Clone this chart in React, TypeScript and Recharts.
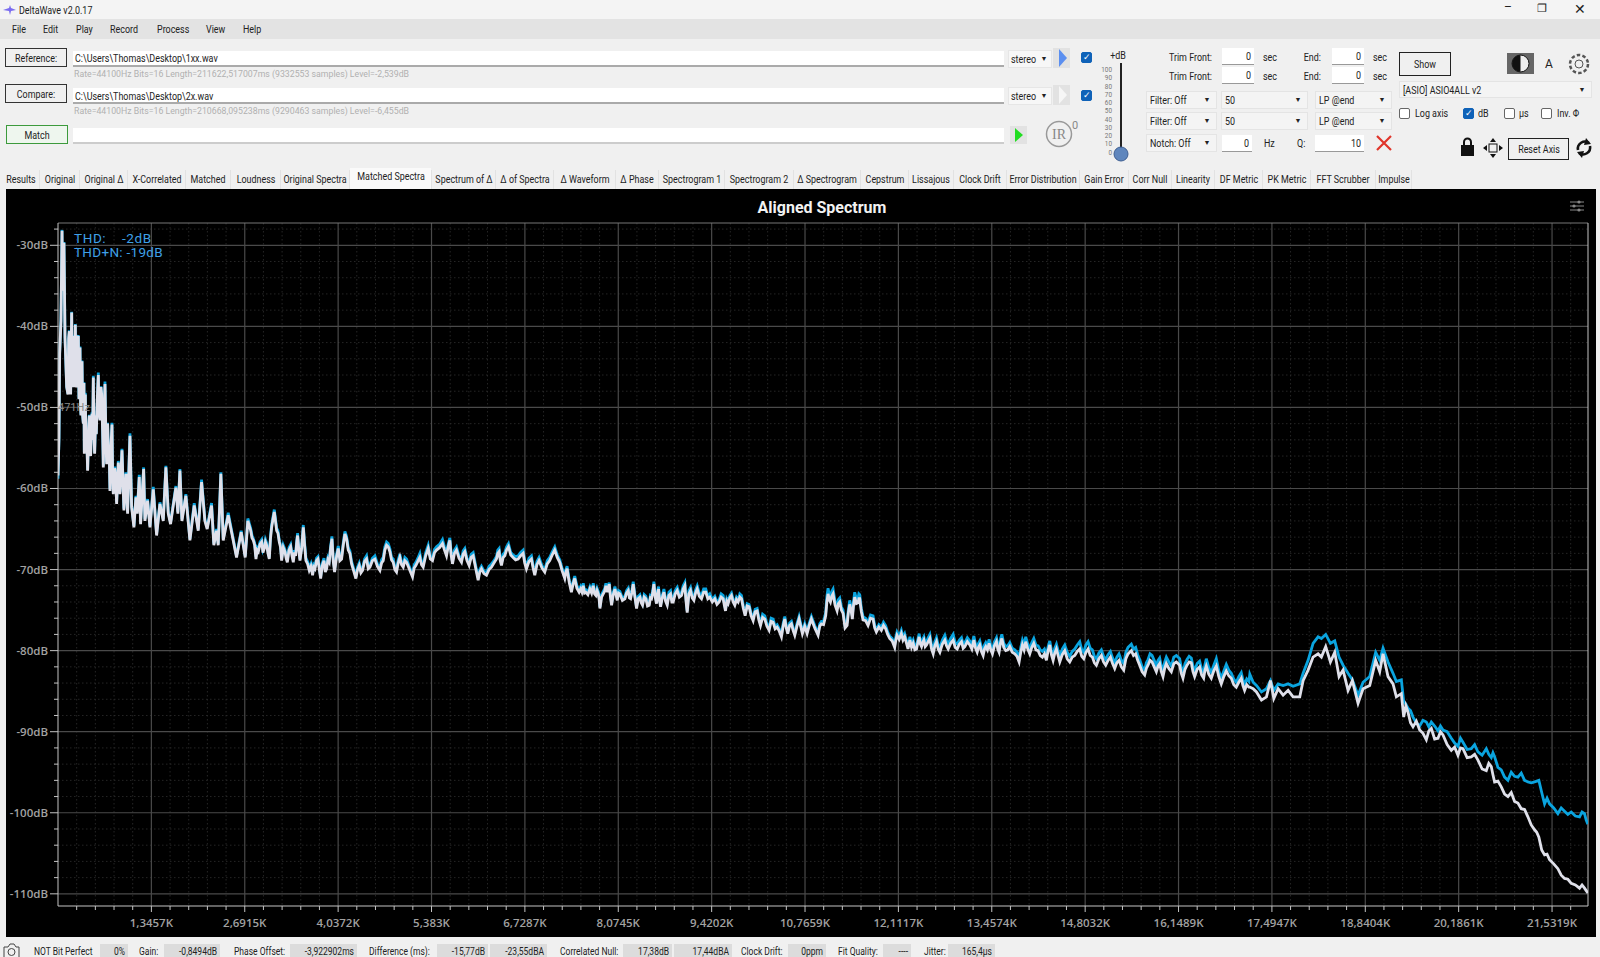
import React from "react";
import {
  LineChart,
  Line,
  XAxis,
  YAxis,
  CartesianGrid,
  ReferenceLine,
} from "recharts";

// values, split by frequency band
const hzBand1 = [
  0, 14, 24, 43, 58, 67, 76, 86, 101, 125,
  144, 154, 163, 173, 182, 197, 206, 221, 230, 240,
  250, 259, 269, 278, 293, 302, 317, 326, 331, 346,
  355, 365, 374, 379, 394, 403, 413, 427, 442, 451,
  461, 470, 490, 499, 509, 518, 528, 542, 552, 566,
  581, 590, 605, 619, 629, 643, 653, 667, 677, 691,
  701, 715, 725, 739, 749, 763, 778, 787, 797, 816,
  830, 845, 869, 893, 922, 950, 979, 1003, 1037, 1061,
  1094, 1123, 1142, 1171, 1190, 1234, 1253, 1291, 1325, 1373,
  1421, 1469, 1517, 1555, 1589, 1622, 1661, 1699, 1728, 1757,
  1786, 1843, 1901, 1963, 2021, 2069, 2117, 2150, 2213, 2246,
  2285, 2309, 2347, 2381, 2453, 2525, 2573, 2640, 2698, 2736,
];
const whiteBand1 = [
  -58.4, -53.7, -43.4, -39.3, -28.2, -35.6, -33.0, -29.7, -41.4, -47.5,
  -48.4, -41.5, -40.6, -47.5, -48.4, -38.3, -47.5, -41.5, -41.2, -47.5,
  -39.8, -47.0, -47.5, -41.5, -41.2, -49.0, -42.6, -50.0, -51.0, -44.3,
  -51.0, -52.0, -47.0, -55.7, -48.4, -54.5, -53.3, -57.8, -52.5, -51.0,
  -55.5, -56.0, -50.8, -54.0, -46.3, -53.0, -55.7, -51.0, -53.3, -49.0,
  -46.0, -50.5, -51.6, -47.5, -48.4, -53.0, -57.4, -50.0, -47.1, -54.0,
  -57.0, -52.0, -54.9, -56.0, -60.3, -55.0, -52.1, -58.0, -60.7, -57.5,
  -58.6, -61.9, -56.8, -60.7, -55.3, -62.7, -58.2, -63.1, -53.5, -62.3,
  -64.8, -61.1, -63.1, -58.6, -64.4, -57.6, -64.0, -61.5, -64.8, -60.1,
  -65.8, -61.9, -64.0, -57.4, -63.1, -64.4, -62.1, -59.9, -63.1, -57.8,
  -64.0, -60.9, -66.4, -62.1, -65.2, -59.2, -64.0, -65.0, -62.1, -67.0,
  -65.2, -67.0, -58.2, -66.4, -63.3, -66.4, -68.5, -65.4, -68.5, -64.0,
];
const blueBand1 = [
  -58.8, -53.8, -43.3, -39.2, -28.1, -35.5, -32.9, -29.6, -41.3, -47.4,
  -48.3, -41.4, -40.5, -47.4, -48.3, -38.2, -47.4, -41.4, -41.1, -47.4,
  -39.7, -46.9, -47.4, -41.4, -41.1, -48.9, -42.5, -49.9, -50.9, -44.2,
  -50.9, -51.9, -46.9, -55.5, -48.2, -54.4, -53.1, -57.7, -52.4, -50.9,
  -55.4, -55.9, -50.6, -53.9, -46.1, -52.9, -55.6, -50.9, -53.2, -48.9,
  -45.7, -50.4, -51.4, -47.4, -48.3, -52.9, -57.2, -49.9, -46.8, -53.9,
  -56.8, -51.9, -54.7, -55.9, -60.1, -54.9, -51.9, -57.9, -60.5, -57.3,
  -58.4, -61.7, -56.6, -60.5, -55.1, -62.5, -58.0, -62.9, -53.2, -62.1,
  -64.6, -60.9, -62.9, -58.3, -64.2, -57.4, -63.8, -61.3, -64.6, -59.8,
  -65.6, -61.7, -63.8, -57.2, -62.9, -64.2, -61.9, -59.7, -62.9, -57.6,
  -63.8, -60.7, -66.2, -61.8, -65.0, -58.9, -63.8, -64.8, -61.8, -66.8,
  -65.0, -66.8, -58.0, -66.2, -63.0, -66.2, -68.3, -65.2, -68.3, -63.7,
];

const hzBand2 = [
  2777, 2796, 2815, 2834, 2853, 2870, 2887, 2911, 2935, 2954,
  2973, 2990, 3007, 3026, 3045, 3062, 3079, 3098, 3117, 3134,
  3151, 3170, 3189, 3206, 3223, 3247, 3271, 3288, 3305, 3329,
  3353, 3372, 3391, 3408, 3425, 3439, 3453, 3470, 3487, 3511,
  3535, 3554, 3573, 3597, 3621, 3645, 3669, 3686, 3703, 3725,
  3746, 3766, 3785, 3809, 3833, 3852, 3871, 3890, 3909, 3929,
  3948, 3967, 3986, 4013, 4039, 4063, 4087, 4111, 4135, 4159,
  4183, 4207, 4231, 4262, 4293, 4317, 4341, 4365, 4389, 4418,
  4447, 4471, 4495, 4531, 4567, 4603, 4639, 4663, 4687, 4711,
  4735, 4759, 4783, 4807, 4831, 4855, 4879, 4903, 4927, 4951,
  4975, 4999, 5023, 5066, 5109, 5133, 5157, 5186, 5215, 5239,
  5263, 5299, 5335, 5366, 5397, 5426, 5455, 5498, 5541, 5570,
  5599, 5623, 5647, 5666, 5685, 5714, 5743, 5779, 5815, 5839,
  5863, 5894, 5925, 5954, 5983, 6019, 6055, 6079, 6103, 6139,
  6175, 6211, 6247, 6283, 6319, 6338, 6357, 6374, 6391, 6415,
  6439, 6465, 6492, 6525, 6559, 6595, 6631, 6667, 6703, 6727,
  6751, 6787, 6823, 6847, 6871, 6902, 6933, 6974, 7015, 7051,
  7087, 7123, 7159, 7195, 7231, 7267, 7303, 7320, 7337, 7368,
  7399, 7423, 7447, 7478, 7510,
];
const whiteBand2 = [
  -65.2, -66.1, -66.4, -67.0, -68.7, -67.6, -67.8, -66.9, -66.6, -67.9,
  -67.4, -66.6, -67.0, -68.0, -68.7, -66.2, -64.8, -63.8, -62.9, -64.0,
  -65.2, -65.5, -66.6, -67.2, -68.9, -67.3, -67.8, -68.6, -69.1, -67.6,
  -67.2, -68.3, -69.1, -67.9, -68.3, -66.8, -65.8, -67.5, -68.9, -67.4,
  -64.8, -67.0, -68.9, -69.3, -70.1, -69.6, -70.7, -69.7, -69.9, -68.9,
  -68.7, -70.0, -71.1, -69.5, -68.9, -70.3, -69.9, -68.8, -69.1, -67.4,
  -66.2, -69.0, -70.3, -68.5, -67.4, -68.9, -68.7, -67.0, -65.6, -66.2,
  -67.6, -68.0, -69.3, -70.2, -71.1, -70.0, -69.5, -70.4, -70.1, -69.0,
  -68.7, -69.9, -69.7, -68.9, -68.7, -69.6, -70.1, -69.2, -68.9, -67.6,
  -67.0, -67.2, -67.8, -68.8, -69.1, -70.0, -70.3, -69.2, -68.5, -69.4,
  -69.7, -68.9, -69.1, -70.0, -70.9, -69.8, -69.5, -69.0, -68.5, -69.4,
  -69.7, -68.3, -67.4, -68.7, -68.9, -67.9, -67.6, -67.3, -66.8, -67.6,
  -68.3, -67.2, -66.4, -68.2, -69.3, -68.0, -67.6, -68.6, -69.1, -68.1,
  -67.8, -68.9, -69.5, -68.5, -68.3, -69.8, -71.3, -70.3, -69.9, -70.5,
  -70.7, -70.0, -69.7, -69.2, -68.7, -68.0, -67.8, -68.9, -69.5, -68.5,
  -68.3, -67.6, -67.2, -68.2, -68.5, -68.8, -68.7, -68.3, -68.0, -69.2,
  -69.9, -69.0, -68.7, -69.8, -70.7, -69.4, -68.9, -69.8, -70.3, -69.3,
  -68.9, -68.2, -67.6, -68.5, -69.1, -70.2, -71.1, -70.3, -69.9, -71.6,
  -72.8, -71.8, -71.1, -72.3, -72.8,
];
const blueBand2 = [
  -64.9, -65.8, -66.2, -66.7, -68.4, -67.3, -67.5, -66.6, -66.3, -67.6,
  -67.2, -66.3, -66.7, -67.7, -68.5, -65.9, -64.5, -63.5, -62.6, -63.7,
  -64.9, -65.2, -66.4, -66.9, -68.6, -67.0, -67.5, -68.3, -68.9, -67.3,
  -66.9, -68.0, -68.8, -67.6, -68.0, -66.5, -65.5, -67.2, -68.7, -67.1,
  -64.5, -66.7, -68.6, -69.0, -69.8, -69.3, -70.5, -69.4, -69.6, -68.6,
  -68.4, -69.7, -70.9, -69.2, -68.6, -70.0, -69.5, -68.5, -68.8, -67.1,
  -65.9, -68.7, -70.0, -68.2, -67.1, -68.6, -68.4, -66.7, -65.3, -65.9,
  -67.3, -67.7, -69.0, -69.9, -70.9, -69.7, -69.2, -70.1, -69.8, -68.7,
  -68.3, -69.6, -69.4, -68.6, -68.3, -69.3, -69.8, -68.8, -68.5, -67.2,
  -66.6, -66.8, -67.4, -68.5, -68.7, -69.7, -70.0, -68.8, -68.1, -69.1,
  -69.4, -68.5, -68.7, -69.7, -70.6, -69.4, -69.1, -68.6, -68.0, -69.1,
  -69.4, -67.9, -67.0, -68.4, -68.6, -67.5, -67.2, -66.9, -66.3, -67.2,
  -67.9, -66.9, -66.1, -67.9, -69.0, -67.6, -67.2, -68.3, -68.8, -67.7,
  -67.4, -68.6, -69.2, -68.1, -67.9, -69.5, -71.0, -70.0, -69.6, -70.2,
  -70.4, -69.6, -69.3, -68.9, -68.4, -67.6, -67.4, -68.6, -69.2, -68.1,
  -67.9, -67.2, -66.8, -67.9, -68.2, -68.4, -68.3, -67.9, -67.6, -68.9,
  -69.6, -68.6, -68.3, -69.5, -70.4, -69.0, -68.5, -69.5, -70.0, -68.9,
  -68.5, -67.8, -67.2, -68.2, -68.8, -69.9, -70.8, -70.0, -69.6, -71.3,
  -72.5, -71.5, -70.8, -72.0, -72.5,
];

const hzBand3 = [
  7532, 7551, 7570, 7589, 7608, 7637, 7666, 7690, 7714, 7733,
  7752, 7769, 7786, 7798, 7810, 7834, 7858, 7877, 7896, 7920,
  7944, 7961, 7978, 8002, 8026, 8043, 8060, 8079, 8098, 8134,
  8170, 8194, 8218, 8235, 8252, 8271, 8290, 8314, 8338, 8362,
  8386, 8405, 8424, 8448, 8472, 8496, 8520, 8537, 8554, 8571,
  8588, 8607, 8626, 8640, 8655, 8669, 8684, 8708, 8732, 8756,
  8780, 8804, 8828, 8847, 8866, 8895, 8924, 8955, 8986, 9010,
  9034, 9051, 9068, 9092, 9116, 9140, 9164, 9188, 9212, 9243,
  9274, 9305, 9336, 9365, 9394, 9430, 9466, 9497, 9528, 9557,
  9586, 9603, 9620, 9639, 9658, 9682, 9706, 9730, 9754, 9778,
  9802, 9826, 9850, 9877, 9903, 9932, 9960, 9989, 10018, 10047,
  10076, 10100, 10124, 10155, 10186, 10217, 10248, 10277, 10306, 10335,
  10364, 10395, 10426, 10450, 10474, 10496, 10517, 10544, 10570, 10594,
  10618, 10649, 10680, 10704, 10728, 10762, 10796, 10827, 10858, 10906,
  10954, 10978, 11002, 11033, 11064, 11081, 11098, 11115, 11132, 11151,
  11170, 11199, 11228, 11247, 11266, 11290, 11314, 11343, 11372, 11391,
  11410, 11429, 11448, 11465, 11482, 11506, 11530, 11542, 11554, 11578,
  11602, 11638, 11674, 11710, 11746, 11770, 11794, 11830, 11866, 11897,
  11928, 11957, 11986, 12022, 12058, 12075, 12092, 12123, 12154, 12178,
  12202, 12226, 12250,
];
const whiteBand3 = [
  -72.4, -72.8, -72.0, -72.9, -72.8, -73.1, -72.4, -72.9, -72.0, -73.0,
  -73.2, -72.6, -73.0, -73.6, -74.8, -73.4, -73.0, -72.7, -72.0, -72.8,
  -71.8, -73.3, -74.4, -73.1, -72.4, -73.1, -73.8, -72.9, -73.0, -73.8,
  -73.6, -72.9, -72.6, -73.5, -73.6, -72.8, -71.8, -73.4, -74.8, -73.6,
  -73.4, -74.1, -74.4, -73.4, -73.6, -74.5, -74.4, -73.5, -73.6, -72.9,
  -71.8, -73.4, -74.2, -73.0, -72.4, -73.8, -74.6, -73.5, -72.8, -73.9,
  -74.4, -73.2, -73.0, -74.0, -74.0, -73.0, -72.6, -73.4, -73.2, -72.4,
  -72.0, -73.9, -75.3, -73.0, -72.6, -73.5, -73.8, -72.9, -72.4, -73.3,
  -73.6, -72.8, -72.8, -73.6, -73.4, -74.0, -73.6, -74.3, -74.0, -73.4,
  -73.6, -74.4, -75.1, -73.9, -74.2, -73.5, -73.2, -74.0, -74.4, -73.7,
  -74.0, -73.4, -73.6, -74.8, -75.7, -74.5, -74.6, -75.7, -76.3, -75.2,
  -75.1, -76.2, -76.9, -75.9, -76.1, -77.0, -77.5, -76.4, -76.5, -77.3,
  -77.1, -77.6, -78.3, -77.0, -76.1, -77.2, -77.9, -76.9, -76.7, -77.5,
  -78.1, -77.0, -76.1, -77.0, -77.9, -77.0, -77.9, -76.9, -76.1, -77.2,
  -78.1, -77.0, -76.7, -76.8, -75.7, -74.0, -73.0, -73.7, -74.0, -73.3,
  -73.0, -74.4, -75.1, -74.2, -74.0, -75.0, -75.4, -77.2, -76.9, -75.3,
  -74.3, -75.0, -76.1, -74.4, -73.4, -74.2, -74.1, -73.6, -73.6, -75.2,
  -76.2, -76.3, -76.9, -76.0, -76.1, -77.2, -77.7, -77.1, -77.5, -76.9,
  -77.3, -78.0, -78.5, -78.8, -79.6, -78.7, -78.1, -78.6, -77.9, -78.7,
  -78.3, -79.0, -79.8,
];
const blueBand3 = [
  -72.1, -72.5, -71.7, -72.6, -72.5, -72.8, -72.1, -72.6, -71.7, -72.7,
  -72.9, -72.3, -72.7, -73.3, -74.6, -73.1, -72.7, -72.4, -71.7, -72.5,
  -71.6, -73.0, -74.2, -72.8, -72.1, -72.8, -73.6, -72.6, -72.7, -73.5,
  -73.3, -72.6, -72.3, -73.2, -73.3, -72.5, -71.5, -73.1, -74.6, -73.3,
  -73.1, -73.8, -74.2, -73.1, -73.3, -74.2, -74.2, -73.2, -73.3, -72.6,
  -71.5, -73.1, -74.0, -72.7, -72.1, -73.5, -74.4, -73.2, -72.4, -73.6,
  -74.1, -72.8, -72.6, -73.7, -73.7, -72.6, -72.2, -73.0, -72.8, -72.0,
  -71.6, -73.6, -75.1, -72.6, -72.2, -73.2, -73.5, -72.5, -72.0, -72.9,
  -73.2, -72.4, -72.4, -73.3, -73.0, -73.7, -73.3, -74.0, -73.7, -73.0,
  -73.2, -74.1, -74.9, -73.6, -73.9, -73.2, -72.9, -73.7, -74.1, -73.4,
  -73.7, -73.0, -73.2, -74.5, -75.4, -74.2, -74.3, -75.4, -76.0, -74.9,
  -74.8, -75.9, -76.6, -75.5, -75.7, -76.7, -77.2, -76.0, -76.1, -77.0,
  -76.8, -77.3, -78.1, -76.7, -75.8, -76.9, -77.7, -76.6, -76.4, -77.2,
  -77.9, -76.7, -75.8, -76.7, -77.7, -76.7, -77.6, -76.6, -75.8, -76.9,
  -77.8, -76.7, -76.4, -76.4, -75.3, -73.3, -72.3, -73.1, -73.4, -72.7,
  -72.4, -73.9, -74.6, -73.7, -73.5, -74.6, -75.0, -76.9, -76.5, -74.9,
  -73.8, -74.6, -75.7, -73.9, -72.8, -73.6, -73.5, -73.0, -73.1, -74.8,
  -75.8, -76.0, -76.5, -75.6, -75.7, -76.9, -77.4, -76.8, -77.1, -76.5,
  -76.9, -77.7, -78.2, -78.5, -79.3, -78.3, -77.7, -78.2, -77.5, -78.3,
  -77.9, -78.7, -79.5,
];

const hzBand4 = [
  12277, 12301, 12325, 12349, 12373, 12392, 12411, 12428, 12445, 12462,
  12479, 12498, 12517, 12541, 12565, 12589, 12613, 12637, 12661, 12685,
  12709, 12745, 12781, 12805, 12829, 12865, 12901, 12930, 12959, 12990,
  13021, 13045, 13069, 13105, 13141, 13170, 13199, 13223, 13247, 13266,
  13285, 13309, 13333, 13352, 13371, 13395, 13419, 13443, 13467, 13496,
  13525, 13544, 13563, 13582, 13602, 13630, 13659, 13688, 13717, 13753,
  13789, 13820, 13851, 13875, 13899, 13923, 13947, 13976, 14005, 14034,
  14063, 14094, 14125, 14156, 14187, 14216, 14245, 14269, 14293, 14317,
  14341, 14365, 14389, 14413, 14437, 14473, 14509, 14545, 14581, 14617,
  14653, 14689, 14725, 14754, 14783, 14814, 14845, 14876, 14907, 14936,
  14965, 15001, 15037, 15068, 15099, 15133, 15167, 15198, 15229, 15260,
  15291, 15325, 15359, 15390, 15421, 15445, 15469, 15500, 15531, 15560,
  15589, 15625, 15661, 15685, 15709, 15738, 15767, 15798, 15829, 15853,
  15877, 15901, 15925, 15949, 15973, 16009, 16045, 16081, 16117, 16141,
  16165, 16189, 16213, 16242, 16271, 16302, 16333, 16357, 16381, 16417,
  16453, 16482, 16511, 16530, 16549, 16585, 16621, 16657, 16693, 16729,
  16765, 16801, 16837, 16873, 16909, 16945, 16981, 17017, 17053, 17077,
  17101, 17132, 17163,
];
const whiteBand4 = [
  -78.7, -79.6, -79.1, -79.9, -79.8, -79.0, -78.3, -79.2, -79.5, -79.0,
  -78.7, -79.5, -79.3, -78.9, -78.5, -79.8, -80.4, -79.4, -78.9, -79.8,
  -80.2, -79.2, -78.7, -79.4, -79.8, -79.1, -78.7, -79.6, -79.8, -79.2,
  -78.9, -79.7, -79.5, -78.9, -79.3, -79.8, -78.7, -79.7, -80.2, -79.6,
  -79.3, -80.1, -80.6, -79.8, -79.5, -79.9, -79.1, -79.9, -80.4, -79.4,
  -78.9, -79.8, -80.2, -79.1, -78.5, -79.6, -80.0, -79.9, -79.5, -80.2,
  -80.4, -80.7, -81.4, -80.2, -79.3, -79.9, -78.9, -79.8, -80.4, -79.6,
  -79.1, -79.9, -80.0, -80.6, -80.8, -80.4, -81.2, -80.0, -79.3, -80.5,
  -81.2, -80.3, -79.8, -80.6, -81.4, -80.5, -80.0, -81.0, -81.4, -80.8,
  -80.6, -80.1, -79.8, -80.7, -81.0, -80.2, -79.8, -80.6, -80.8, -81.5,
  -81.8, -81.0, -80.6, -81.4, -81.8, -81.2, -80.8, -81.6, -82.2, -81.5,
  -81.2, -82.0, -82.4, -81.0, -80.4, -80.2, -80.0, -80.6, -80.4, -81.2,
  -81.8, -82.6, -83.0, -82.2, -81.8, -81.2, -81.4, -82.0, -82.6, -81.9,
  -81.6, -82.6, -83.2, -82.2, -81.6, -82.2, -82.6, -81.6, -81.4, -81.6,
  -81.8, -82.8, -83.4, -82.3, -81.8, -81.4, -81.5, -82.6, -83.2, -82.3,
  -82.0, -83.0, -83.4, -82.4, -81.9, -82.9, -83.4, -82.5, -81.9, -83.2,
  -84.1, -83.2, -82.5, -83.1, -83.4, -84.2, -84.5, -83.9, -83.4, -84.3,
  -84.9, -84.2, -84.5,
];
const blueBand4 = [
  -78.3, -79.2, -78.7, -79.5, -79.4, -78.6, -77.9, -78.8, -79.1, -78.6,
  -78.3, -79.1, -78.9, -78.4, -78.0, -79.3, -80.0, -78.9, -78.4, -79.3,
  -79.7, -78.7, -78.1, -78.8, -79.2, -78.5, -78.0, -79.0, -79.2, -78.7,
  -78.4, -79.2, -79.0, -78.4, -78.8, -79.3, -78.2, -79.2, -79.7, -79.1,
  -78.8, -79.6, -80.1, -79.3, -79.0, -79.4, -78.6, -79.4, -79.9, -78.9,
  -78.4, -79.3, -79.7, -78.6, -78.0, -79.1, -79.5, -79.4, -79.0, -79.7,
  -79.9, -80.2, -81.0, -79.6, -78.7, -79.3, -78.3, -79.2, -79.8, -79.0,
  -78.5, -79.3, -79.4, -79.9, -80.1, -79.8, -80.6, -79.5, -78.8, -79.9,
  -80.6, -79.7, -79.2, -80.0, -80.8, -79.8, -79.3, -80.2, -80.7, -80.1,
  -79.8, -79.3, -78.9, -79.9, -80.2, -79.3, -78.9, -79.7, -79.9, -80.7,
  -81.0, -80.3, -79.9, -80.7, -81.1, -80.5, -80.1, -80.9, -81.5, -80.8,
  -80.4, -81.2, -81.6, -80.2, -79.6, -79.4, -79.2, -79.8, -79.6, -80.5,
  -81.1, -82.0, -82.4, -81.5, -81.1, -80.4, -80.6, -81.2, -81.9, -81.2,
  -80.9, -81.9, -82.5, -81.4, -80.8, -81.4, -81.9, -80.8, -80.6, -80.8,
  -81.0, -82.1, -82.8, -81.6, -81.1, -80.7, -80.9, -81.9, -82.5, -81.6,
  -81.3, -82.3, -82.7, -81.7, -81.0, -82.1, -82.7, -81.8, -81.0, -82.5,
  -83.4, -82.5, -81.7, -82.4, -82.8, -83.5, -83.9, -83.2, -82.7, -83.6,
  -84.2, -83.5, -83.8,
];

const hzBand5 = [
  17176, 17224, 17272, 17344, 17416, 17474, 17522, 17584, 17656, 17728,
  17800, 17896, 17944, 18016, 18088, 18160, 18208, 18270, 18338, 18400,
  18462, 18520, 18592, 18654, 18736, 18808, 18904, 18990, 19048, 19096,
  19168, 19240, 19288,
  19360, 19394, 19425, 19456, 19492, 19528, 19576, 19624, 19672, 19720,
  19756, 19792, 19840, 19888, 19924, 19960, 20020, 20080, 20128, 20176,
  20212, 20248, 20308, 20368, 20416, 20464, 20524, 20584, 20620, 20656,
  20680, 20704, 20752, 20800, 20848, 20896, 20944, 20992, 21040, 21088,
  21136, 21184, 21232, 21280, 21311, 21342, 21383, 21424, 21460, 21496,
  21556, 21616, 21664, 21712, 21760, 21808, 21868, 21928, 21964, 22000,
  22024, 22048,
];
const whiteBand5 = [
  -84.5, -84.7, -85.1, -86.1, -85.7, -83.7, -85.9, -84.7, -85.5, -84.9,
  -85.7, -85.7, -83.7, -82.4, -80.8, -80.4, -80.8, -79.5, -81.4, -80.2,
  -83.2, -82.4, -84.9, -83.7, -86.5, -84.7, -84.3, -81.2, -82.6, -80.4,
  -83.2, -84.1, -85.7,
  -85.3, -88.2, -86.8, -87.6, -88.9, -89.4, -88.7, -89.8, -90.2, -91.0,
  -89.9, -89.6, -90.9, -90.8, -90.0, -90.4, -91.6, -92.3, -91.9, -92.9,
  -92.0, -92.1, -93.2, -93.1, -92.8, -93.5, -94.6, -94.8, -93.9, -94.3,
  -95.3, -96.2, -96.1, -96.8, -97.7, -98.0, -97.5, -98.6, -98.8, -99.5,
  -99.6, -100.5, -101.5, -102.1, -102.4, -103.0, -104.6, -105.2, -105.1, -105.8,
  -106.3, -106.9, -107.7, -108.1, -108.2, -108.7, -108.9, -109.3, -108.9, -109.3,
  -109.6, -109.9,
];
const blueBand5 = [
  -82.9, -83.9, -84.3, -85.1, -84.7, -83.7, -84.9, -84.1, -84.3, -84.1,
  -84.4, -84.1, -82.8, -81.2, -79.1, -78.3, -78.5, -78.0, -79.1, -78.8,
  -80.8, -81.8, -82.8, -83.6, -85.5, -83.9, -83.2, -80.2, -81.2, -79.7,
  -81.4, -82.8, -83.8,
  -83.6, -86.3, -86.6, -87.1, -87.4, -88.2, -88.9, -89.3, -88.6, -88.8,
  -89.4, -88.8, -89.3, -89.9, -89.3, -89.8, -90.0, -90.8, -91.4, -91.8,
  -90.8, -91.3, -92.2, -92.1, -91.6, -92.5, -92.9, -92.1, -92.8, -93.2,
  -92.6, -93.1, -94.4, -94.7, -95.6, -96.0, -95.0, -95.5, -95.6, -95.1,
  -96.0, -96.2, -96.3, -96.2, -96.1, -96.0, -97.5, -98.9, -98.2, -98.9,
  -99.4, -100.1, -99.4, -99.8, -100.2, -99.9, -100.4, -100.5, -99.9, -100.1,
  -100.9, -101.4,
];

const freqHz = [...hzBand1, ...hzBand2, ...hzBand3, ...hzBand4, ...hzBand5];
const whiteDb = [...whiteBand1, ...whiteBand2, ...whiteBand3, ...whiteBand4, ...whiteBand5];
const blueDb = [...blueBand1, ...blueBand2, ...blueBand3, ...blueBand4, ...blueBand5];

const rows = freqHz.map((hz, i) => ({ hz, white: whiteDb[i], blue: blueDb[i] }));

const xMajor = [
  1345.7, 2691.5, 4037.2, 5383, 6728.7, 8074.5, 9420.2, 10765.9,
  12111.7, 13457.4, 14803.2, 16148.9, 17494.7, 18840.4, 20186.1, 21531.9,
];
const xLabels = [
  "1,3457K", "2,6915K", "4,0372K", "5,383K", "6,7287K", "8,0745K", "9,4202K", "10,7659K",
  "12,1117K", "13,4574K", "14,8032K", "16,1489K", "17,4947K", "18,8404K", "20,1861K", "21,5319K",
];
const yMajor = [-30, -40, -50, -60, -70, -80, -90, -100, -110];

// minor divisions: five per major on x, 2 dB on y
const xMinor: number[] = [];
for (let i = 1; i * 269.14 < 22050; i++) {
  if (i % 5 !== 0) xMinor.push(Math.round(i * 269.14 * 10) / 10);
}
const yMinor: number[] = [];
for (let v = -28; v >= -110; v -= 2) {
  if (v % 10 !== 0) yMinor.push(v);
}

const xAll = [...xMajor, ...xMinor].sort((a, b) => a - b);
const yAll = [...yMajor, ...yMinor].sort((a, b) => a - b);

const tabs = [
  ["Results", 3, 39], ["Original", 40, 79], ["Original Δ", 80, 127], ["X-Correlated", 128, 185],
  ["Matched", 186, 230], ["Loudness", 231, 280], ["Original Spectra", 281, 349],
  ["Matched Spectra", 350, 431], ["Spectrum of Δ", 432, 495], ["Δ of Spectra", 496, 553],
  ["Δ Waveform", 554, 615], ["Δ Phase", 616, 658], ["Spectrogram 1", 659, 724],
  ["Spectrogram 2", 725, 793], ["Δ Spectrogram", 794, 860], ["Cepstrum", 861, 908],
  ["Lissajous", 909, 953], ["Clock Drift", 954, 1006], ["Error Distribution", 1007, 1079],
  ["Gain Error", 1080, 1128], ["Corr Null", 1129, 1171], ["Linearity", 1172, 1214],
  ["DF Metric", 1215, 1262], ["PK Metric", 1263, 1310], ["FFT Scrubber", 1311, 1375],
  ["Impulse", 1376, 1411],
] as [string, number, number][];

const menus = [["File", 12], ["Edit", 43], ["Play", 76], ["Record", 110], ["Process", 157], ["View", 206], ["Help", 243]] as [string, number][];
const sliderLabels = ["100", "90", "80", "70", "60", "50", "40", "30", "20", "10", "0"];

const FONT = "Roboto, sans-serif";

// the app's UI font is a narrow one, so text is squeezed a little
function Txt({ x, y, children, size = 10.5, color = "#222", right, center, weight, sx = 0.85, spacing }: any) {
  const tx = right ? "-100%" : center ? "-50%" : "0";
  const origin = right ? "100% 50%" : center ? "50% 50%" : "0 50%";
  return (
    <div
      style={{
        position: "absolute",
        left: x,
        top: y,
        transform: `translate(${tx},-50%) scaleX(${sx})`,
        transformOrigin: origin,
        whiteSpace: "nowrap",
        fontFamily: FONT,
        fontSize: size,
        letterSpacing: spacing,
        color,
        fontWeight: weight,
      }}
    >
      {children}
    </div>
  );
}

function Box({ x, y, w, h, bg = "#fff", border, bottom }: any) {
  return (
    <div
      style={{
        position: "absolute",
        left: x,
        top: y,
        width: w,
        height: h,
        background: bg,
        boxSizing: "border-box",
        border: border,
        borderBottom: bottom ?? border,
      }}
    />
  );
}

function Btn({ x, y, w, h, label, border = "1.5px solid #333", bg = "#f0f0f0" }: any) {
  return (
    <>
      <Box x={x} y={y} w={w} h={h} bg={bg} border={border} />
      <Txt x={x + w / 2} y={y + h / 2} center>{label}</Txt>
    </>
  );
}

function Check({ x, y, on }: any) {
  return (
    <div
      style={{
        position: "absolute",
        left: x,
        top: y - 5.5,
        width: 11,
        height: 11,
        boxSizing: "border-box",
        borderRadius: 2,
        background: on ? "#0f62b8" : "#fff",
        border: on ? "1px solid #0f62b8" : "1px solid #666",
        color: "#fff",
        fontSize: 9,
        lineHeight: "9px",
        textAlign: "center",
        fontFamily: FONT,
      }}
    >
      {on ? "✓" : ""}
    </div>
  );
}

function Combo({ x, y, w, h, label }: any) {
  return (
    <>
      <Box x={x} y={y} w={w} h={h} bg="#f4f4f4" border="1px solid #e4e4e4" />
      <Txt x={x + 4} y={y + h / 2}>{label}</Txt>
      <Txt x={x + w - 10} y={y + h / 2} size={7} center sx={1}>▼</Txt>
    </>
  );
}

function Field({ x, y, w, value }: any) {
  return (
    <>
      <Box x={x} y={y} w={w} h={17} bottom="1px solid #999" />
      <Txt x={x + w - 3} y={y + 8} right>{value}</Txt>
    </>
  );
}

function Stat({ x, w, value }: any) {
  return (
    <>
      <Box x={x} y={944} w={w} h={13} bg="#dcdcdc" />
      <Txt x={x + w - 3} y={951} size={10} right>{value}</Txt>
    </>
  );
}

function XTick({ x, y, payload }: any) {
  const idx = xMajor.indexOf(payload.value);
  return (
    <g>
      <line x1={x} x2={x} y1={y} y2={y + (idx >= 0 ? 6 : 4)} stroke="#c4c4c4" />
      {idx >= 0 && (
        <text x={x} y={y + 21} textAnchor="middle" fill="#a2a2a2" fontSize={11.5} fontFamily="'Open Sans'" fontWeight={600}>
          {xLabels[idx]}
        </text>
      )}
    </g>
  );
}

function YTick({ x, y, payload }: any) {
  const major = yMajor.includes(payload.value);
  return (
    <g>
      <line x1={x - (major ? 8 : 4)} x2={x} y1={y} y2={y} stroke="#c4c4c4" />
      {major && (
        <text x={x - 10} y={y + 4} textAnchor="end" fill="#a2a2a2" fontSize={11.5} fontFamily="'Open Sans'" fontWeight={600}>
          {payload.value}dB
        </text>
      )}
    </g>
  );
}

function Toolbar() {
  return (
    <>
      {/* title bar and menu */}
      <Box x={0} y={0} w={1600} h={19} bg="#f4f4f4" />
      <Box x={0} y={19} w={1600} h={20} bg="#e3e3e3" />
      <svg style={{ position: "absolute", left: 3, top: 5 }} width={13} height={10}>
        <path d="M0 5 L6 3 L7 0 L8 3 L13 5 L8 6 L7 10 L6 6 Z" fill="#7a6cf0" />
      </svg>
      <Txt x={19} y={10}>DeltaWave v2.0.17</Txt>
      <Txt x={1504} y={7} size={12} sx={1}>–</Txt>
      <Txt x={1537} y={8} size={11} sx={1}>❐</Txt>
      <Txt x={1574} y={9} size={14} sx={1}>✕</Txt>
      {menus.map(([m, x]) => <Txt key={m} x={x} y={29} size={10.5}>{m}</Txt>)}

      {/* file rows */}
      <Btn x={5} y={48} w={62} h={19} label="Reference:" />
      <Box x={73} y={51} w={931} h={16} bottom="2px solid #aaa" />
      <Txt x={75} y={58}>C:\Users\Thomas\Desktop\1xx.wav</Txt>
      <Txt x={74} y={73} size={9.5} color="#b0b0b0" sx={0.92}>Rate=44100Hz Bits=16 Length=211622,517007ms (9332553 samples) Level=-2,539dB</Txt>

      <Btn x={5} y={84} w={62} h={19} label="Compare:" />
      <Box x={73} y={88} w={931} h={16} bottom="2px solid #aaa" />
      <Txt x={75} y={96}>C:\Users\Thomas\Desktop\2x.wav</Txt>
      <Txt x={74} y={110} size={9.5} color="#b0b0b0" sx={0.92}>Rate=44100Hz Bits=16 Length=210668,095238ms (9290463 samples) Level=-6,455dB</Txt>

      <Btn x={6} y={125} w={62} h={19} label="Match" border="1.5px solid #3c9a3c" bg="#eef6ee" />
      <Box x={73} y={128} w={931} h={16} bottom="2px solid #ccc" />

      {/* stereo selectors */}
      <Box x={1008} y={50} w={44} h={18} bg="#f7f7f7" border="1px solid #e6e6e6" />
      <Txt x={1011} y={59}>stereo</Txt>
      <Txt x={1044} y={59} size={7} center sx={1}>▼</Txt>
      <Box x={1053} y={48} w={17} h={20} bg="#e2e2e2" />
      <svg style={{ position: "absolute", left: 1059, top: 49 }} width={9} height={18}>
        <path d="M0 0 L8 9 L0 18 Z" fill="#5b8ff0" />
      </svg>
      <Check x={1081} y={57} on />
      <Box x={1008} y={87} w={44} h={18} bg="#f7f7f7" border="1px solid #e6e6e6" />
      <Txt x={1011} y={96}>stereo</Txt>
      <Txt x={1044} y={96} size={7} center sx={1}>▼</Txt>
      <Box x={1053} y={85} w={17} h={20} bg="#e2e2e2" />
      <svg style={{ position: "absolute", left: 1059, top: 86 }} width={9} height={18}>
        <path d="M0 0 L8 9 L0 18 Z" fill="#f6f6f6" />
      </svg>
      <Check x={1081} y={95} on />

      <Box x={1010} y={126} w={17} h={18} bg="#e2e2e2" />
      <svg style={{ position: "absolute", left: 1015, top: 128 }} width={9} height={14}>
        <path d="M0 0 L8 7 L0 14 Z" fill="#22dd22" />
      </svg>
      <svg style={{ position: "absolute", left: 1045, top: 119 }} width={36} height={30}>
        <circle cx={14} cy={15} r={12.5} fill="none" stroke="#999" strokeWidth={1.5} />
        <text x={14} y={20} textAnchor="middle" fontFamily="'Liberation Serif'" fontSize={14} fill="#888">IR</text>
        <text x={30} y={10} textAnchor="middle" fontFamily={FONT} fontSize={11} fill="#888">0</text>
      </svg>

      {/* gain slider */}
      <Txt x={1118} y={55} center>+dB</Txt>
      {sliderLabels.map((s, i) => (
        <Txt key={s} x={1112} y={69 + i * 8.27} size={7.5} color="#777" right>{s}</Txt>
      ))}
      <Box x={1120} y={63} w={2} h={88} bg="#222" />
      <svg style={{ position: "absolute", left: 1113, top: 146 }} width={16} height={16}>
        <circle cx={8} cy={8} r={7} fill="#5f86bd" stroke="#3e5f92" />
      </svg>

      {/* trim */}
      <Txt x={1212} y={57} right>Trim Front:</Txt>
      <Field x={1222} y={48} w={32} value="0" />
      <Txt x={1263} y={57}>sec</Txt>
      <Txt x={1321} y={57} right>End:</Txt>
      <Field x={1332} y={48} w={32} value="0" />
      <Txt x={1373} y={57}>sec</Txt>
      <Txt x={1212} y={76} right>Trim Front:</Txt>
      <Field x={1222} y={67} w={32} value="0" />
      <Txt x={1263} y={76}>sec</Txt>
      <Txt x={1321} y={76} right>End:</Txt>
      <Field x={1332} y={67} w={32} value="0" />
      <Txt x={1373} y={76}>sec</Txt>

      {/* filters */}
      <Combo x={1146} y={91} w={71} h={18} label="Filter: Off" />
      <Combo x={1221} y={91} w={87} h={18} label="50" />
      <Combo x={1315} y={91} w={77} h={18} label="LP @end" />
      <Combo x={1146} y={112} w={71} h={18} label="Filter: Off" />
      <Combo x={1221} y={112} w={87} h={18} label="50" />
      <Combo x={1315} y={112} w={77} h={18} label="LP @end" />
      <Combo x={1146} y={134} w={71} h={18} label="Notch: Off" />
      <Field x={1222} y={135} w={30} value="0" />
      <Txt x={1264} y={143}>Hz</Txt>
      <Txt x={1297} y={143}>Q:</Txt>
      <Field x={1315} y={135} w={49} value="10" />
      <svg style={{ position: "absolute", left: 1376, top: 135 }} width={16} height={16}>
        <path d="M1 1 L15 15 M15 1 L1 15" stroke="#e0352b" strokeWidth={2.2} />
      </svg>

      {/* right column */}
      <Btn x={1399} y={52} w={52} h={24} label="Show" border="1px solid #222" />
      <Box x={1507} y={53} w={27} h={21} bg="#666" />
      <svg style={{ position: "absolute", left: 1511, top: 54 }} width={19} height={19}>
        <circle cx={9.5} cy={9.5} r={8.5} fill="#eee" stroke="#111" />
        <path d="M9.5 1 A8.5 8.5 0 0 0 9.5 18 Z" fill="#111" />
      </svg>
      <Txt x={1549} y={64} size={12} center sx={1}>A</Txt>
      <svg style={{ position: "absolute", left: 1567, top: 52 }} width={24} height={24}>
        <circle cx={12} cy={12} r={4} fill="none" stroke="#555" />
        <circle cx={12} cy={12} r={9} fill="none" stroke="#555" strokeWidth={2.5} strokeDasharray="3.5 2.2" />
      </svg>
      <Combo x={1399} y={81} w={193} h={17} label="[ASIO] ASIO4ALL v2" />
      <Check x={1399} y={113} />
      <Txt x={1415} y={113}>Log axis</Txt>
      <Check x={1463} y={113} on />
      <Txt x={1478} y={113}>dB</Txt>
      <Check x={1504} y={113} />
      <Txt x={1519} y={113}>µs</Txt>
      <Check x={1541} y={113} />
      <Txt x={1557} y={113}>Inv. Φ</Txt>

      <svg style={{ position: "absolute", left: 1459, top: 137 }} width={18} height={20}>
        <rect x={2} y={8} width={13} height={11} fill="#111" />
        <path d="M5 8 V5 A3.5 3.5 0 0 1 12 5 V8" fill="none" stroke="#111" strokeWidth={2} />
      </svg>
      <svg style={{ position: "absolute", left: 1482, top: 137 }} width={22} height={22}>
        <rect x={7} y={7} width={8} height={8} fill="none" stroke="#111" />
        <path d="M11 1 L14 5 H8 Z M11 21 L14 17 H8 Z M1 11 L5 8 V14 Z M21 11 L17 8 V14 Z" fill="#111" />
      </svg>
      <Btn x={1508} y={138} w={61} h={22} label="Reset Axis" border="1px solid #222" />
      <svg style={{ position: "absolute", left: 1575, top: 137 }} width={18} height={22}>
        <path d="M14 6 A7 7 0 0 0 3 13 M4 16 A7 7 0 0 0 15 9" fill="none" stroke="#111" strokeWidth={2.6} />
        <path d="M11 1 L16 7 L9 8 Z M7 21 L2 15 L9 14 Z" fill="#111" />
      </svg>

      {/* tabs */}
      {tabs.map(([t, a, b]) => {
        const active = t === "Matched Spectra";
        return (
          <React.Fragment key={t}>
            <Box x={a} y={active ? 168 : 170} w={b - a} h={active ? 21 : 19} bg={active ? "#fafafa" : "#f0f0f0"} />
            <Box x={b} y={170} w={1} h={19} bg="#e2e2e2" />
            <Txt x={(a + b) / 2} y={active ? 176 : 179} center>{t}</Txt>
          </React.Fragment>
        );
      })}
    </>
  );
}

function StatusBar() {
  return (
    <>
      <svg style={{ position: "absolute", left: 3, top: 943 }} width={17} height={14}>
        <path d="M1 14 V4 H5 L7 1 H11 L13 4 H16 V14" fill="none" stroke="#444" />
        <circle cx={8.5} cy={9} r={3.5} fill="none" stroke="#444" />
      </svg>
      <Txt x={34} y={951} size={10}>NOT Bit Perfect</Txt>
      <Stat x={100} w={28} value="0%" />
      <Txt x={139} y={951} size={10}>Gain:</Txt>
      <Stat x={164} w={56} value="-0,8494dB" />
      <Txt x={234} y={951} size={10}>Phase Offset:</Txt>
      <Stat x={290} w={67} value="-3,922902ms" />
      <Txt x={369} y={951} size={10}>Difference (ms):</Txt>
      <Stat x={437} w={51} value="-15,77dB" />
      <Stat x={490} w={57} value="-23,55dBA" />
      <Txt x={560} y={951} size={10}>Correlated Null:</Txt>
      <Stat x={623} w={49} value="17,38dB" />
      <Stat x={674} w={58} value="17,44dBA" />
      <Txt x={741} y={951} size={10}>Clock Drift:</Txt>
      <Stat x={788} w={38} value="0ppm" />
      <Txt x={838} y={951} size={10}>Fit Quality:</Txt>
      <Stat x={883} w={28} value="----" />
      <Txt x={924} y={951} size={10}>Jitter:</Txt>
      <Stat x={948} w={47} value="165,4µs" />
    </>
  );
}

export default function App() {
  return (
    <div
      style={{
        position: "absolute",
        left: 0,
        top: 0,
        width: 1600,
        height: 957,
        background: "#f0f0f0",
        overflow: "hidden",
      }}
    >
      <Toolbar />
      <div style={{ position: "absolute", left: 6, top: 189, width: 1590, height: 748, background: "#000" }}>
        <LineChart
          width={1590}
          height={748}
          data={rows}
          margin={{ top: 34, right: 8, bottom: 0, left: 0 }}
        >
          <CartesianGrid
            stroke="#2f2f2f"
            strokeWidth={0.8}
            strokeDasharray="1.5 2.5"
            horizontalValues={yMinor}
            verticalValues={xMinor}
          />
          <CartesianGrid
            stroke="#4a4a4a"
            strokeWidth={1.2}
            horizontalValues={yMajor}
            verticalValues={xMajor}
          />
          <XAxis
            dataKey="hz"
            type="number"
            domain={[0, 22050]}
            ticks={xAll}
            interval={0}
            height={31}
            tickSize={0}
            tickMargin={0}
            tickLine={false}
            tick={<XTick />}
            stroke="#c4c4c4"
            allowDataOverflow
          />
          <YAxis
            type="number"
            domain={[-111.5, -27.25]}
            ticks={yAll}
            interval={0}
            width={52}
            tickSize={0}
            tickMargin={0}
            tickLine={false}
            tick={<YTick />}
            stroke="#c4c4c4"
            allowDataOverflow
          />
          <ReferenceLine y={-27.25} stroke="#777" />
          <ReferenceLine x={22050} stroke="#c4c4c4" />
          <Line
            dataKey="blue"
            type="linear"
            stroke="#0aa4df"
            strokeWidth={2.8}
            dot={false}
            isAnimationActive={false}
          />
          <Line
            dataKey="white"
            type="linear"
            stroke="#dfe0ea"
            strokeWidth={2.8}
            dot={false}
            isAnimationActive={false}
          />
        </LineChart>
        <Txt x={816} y={18} size={16} color="#f2f2f2" weight={700} center sx={1}>Aligned Spectrum</Txt>
        <svg style={{ position: "absolute", left: 1564, top: 10 }} width={14} height={14}>
          <path d="M0 3 H14 M0 7 H14 M0 11 H14" stroke="#888" strokeWidth={1.2} />
          <circle cx={9} cy={3} r={1.6} fill="#888" />
          <circle cx={4} cy={7} r={1.6} fill="#888" />
          <circle cx={9} cy={11} r={1.6} fill="#888" />
        </svg>
        <Txt x={68} y={49} size={13.5} color="#3fa0e8" sx={1} spacing="0.6px">THD:&nbsp;&nbsp;&nbsp;&nbsp;-2dB</Txt>
        <Txt x={68} y={63} size={13.5} color="#3fa0e8" sx={1} spacing="0.3px">THD+N: -19dB</Txt>
        <Txt x={52} y={218} size={11} color="#8a8a8a" sx={1}>471Hz</Txt>
      </div>
      <StatusBar />
    </div>
  );
}
